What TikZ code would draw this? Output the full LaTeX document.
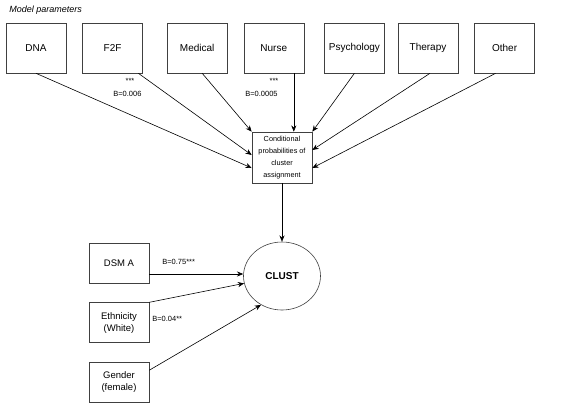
\documentclass[tikz,border=0pt]{standalone}
\usepackage{fontspec}
\setmainfont{Liberation Sans}
\usetikzlibrary{shapes.geometric, arrows.meta, positioning, calc}

\begin{document}
\begin{tikzpicture}[
    x=1pt, y=-1pt,
    font=\fontsize{10}{12}\selectfont,
    >={Stealth[length=2.2mm, width=1.8mm]},
    line width=0.6pt,
    param/.style={
        rectangle,
        draw=black!75,
        minimum width=60pt,
        minimum height=50pt,
        inner sep=0pt
    },
    cond/.style={
        rectangle,
        draw=black!75,
        minimum width=60pt,
        minimum height=51pt,
        inner sep=0pt,
        align=center,
        font=\fontsize{7.3}{12.2}\selectfont
    },
    covar/.style={
        rectangle,
        draw=black!75,
        minimum width=60pt,
        minimum height=40pt,
        inner sep=0pt,
        align=center,
        font=\fontsize{9.5}{12}\selectfont
    },
    latent/.style={
        ellipse,
        draw=black!75,
        minimum width=77pt,
        minimum height=68pt,
        inner sep=0pt,
        font=\fontsize{10}{12}\selectfont\bfseries
    },
    coef/.style={
        inner sep=0pt,
        font=\fontsize{7.5}{9}\selectfont
    }
]
\useasboundingbox (0,0) rectangle (578,416);

\node[anchor=west, inner sep=0pt, font=\fontsize{9}{11}\selectfont\itshape] (title) at (9,10) {Model parameters};

% Top row: model parameters
\node[param] (dna) at (36,48) {DNA};
\node[param, right=16pt of dna] (f2f) {F2F};
\node[param, right=24pt of f2f] (medical) {Medical};
\node[param, right=16pt of medical] (nurse) {Nurse};
\node[param, right=20pt of nurse] (psych) {Psychology};
\node[param, right=13pt of psych] (therapy) {Therapy};
\node[param, right=16pt of therapy] (other) {Other};

% Cluster assignment
\node[cond] (cond) at (282,157.5) {Conditional\\probabilities of\\cluster\\assignment};

\draw[->] (dna.south) -- ([yshift=-10.5pt]cond.west);
\draw[->] ([xshift=-4.5pt]f2f.south east) -- ([yshift=2.5pt]cond.west);
\draw[->] ([xshift=5pt]medical.south) -- (cond.north west);
\draw[->] ([xshift=20pt]nurse.south) -- ([xshift=20pt]nurse.south |- cond.north);
\draw[->] (psych.south) -- (cond.north east);
\draw[->] ([xshift=2pt]therapy.south) -- ([yshift=7.5pt]cond.east);
\draw[->] ([xshift=-9pt]other.south) -- ([yshift=-10.5pt]cond.east);

\node[coef] (sf2f) at (130,80.5) {***};
\node[coef, anchor=west] (bf2f) at (113,94) {B=0.006};
\node[coef] (snurse) at (274,80.5) {***};
\node[coef, anchor=west] (bnurse) at (245,94) {B=0.0005};

% Latent class and covariates
\node[latent] (clust) at (282,276) {CLUST};
\draw[->] (cond.south) -- (clust.north);

\node[covar] (dsm) at (119,263) {DSM A};
\node[covar, below=19pt of dsm] (eth) {Ethnicity\\(White)};
\node[covar, below=19pt of eth] (gender) {Gender\\(female)};

\draw[->] ([yshift=-11pt]dsm.east) -- ([yshift=-11pt]dsm.east -| clust.west);
\draw[->] (eth.north east) -- (clust.191);
\draw[->] ([yshift=12pt]gender.east) -- (clust.234);

\node[coef, anchor=west] (bdsm) at (162,262) {B=0.75***};
\node[coef, anchor=west] (beth) at (152,319) {B=0.04**};

\end{tikzpicture}
\end{document}
